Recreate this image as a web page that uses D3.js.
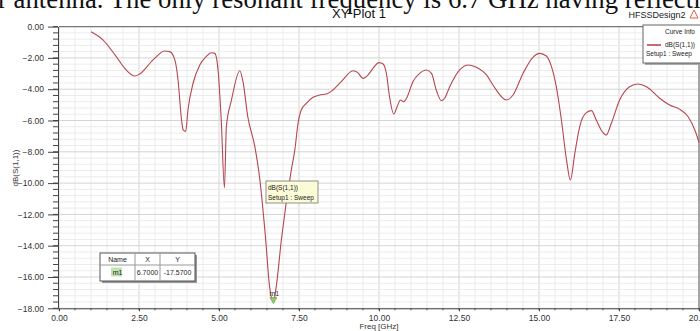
<!DOCTYPE html>
<html>
<head>
<meta charset="utf-8">
<script src="https://cdn.jsdelivr.net/npm/d3@7"></script>
<style>
  body { margin: 0; background: #fff; overflow: hidden; }
  svg { display: block; font-family: "Liberation Sans", Arial, sans-serif; }
</style>
</head>
<body>
<svg id="chart" width="700" height="331"></svg>
<script>
// curve samples: frequency (GHz) and dB(S(1,1))
let freq = [1.0, 1.38, 1.79, 2.1, 2.37, 2.52, 2.94, 3.3, 3.46, 3.62, 3.72, 3.83, 3.88, 3.96, 4.03, 4.19, 4.4, 4.6, 4.76, 4.87, 4.97, 5.07, 5.17, 5.23, 5.39, 5.65, 5.75, 5.9, 6.12, 6.27, 6.45, 6.58, 6.7, 6.79, 6.95, 7.26, 7.37, 7.47, 7.57, 7.73, 7.94, 8.15, 8.36, 8.56, 8.82, 9.19, 9.34, 9.5, 9.66, 9.81, 10.0, 10.13, 10.23, 10.33, 10.46, 10.56, 10.67, 10.77, 10.86, 11.06, 11.27, 11.48, 11.64, 11.79, 11.95, 12.05, 12.21, 12.52, 12.78, 13.04, 13.36, 13.56, 13.98, 14.19, 14.5, 14.81, 15.02, 15.23, 15.39, 15.54, 15.7, 15.86, 15.98, 16.12, 16.27, 16.48, 16.64, 16.79, 16.98, 17.1, 17.26, 17.52, 17.83, 18.09, 18.36, 18.77, 19.08, 19.4, 19.66, 19.87, 20.0];
let s11 = [-0.33, -0.86, -1.92, -2.77, -3.16, -3.03, -2.13, -1.56, -1.6, -2.13, -3.41, -5.97, -6.6, -6.7, -5.33, -3.62, -2.45, -1.92, -1.67, -1.71, -2.77, -5.97, -10.3, -6.4, -4.69, -2.82, -3.52, -5.76, -7.67, -9.67, -13.4, -16.6, -17.57, -16.6, -13.6, -9.16, -7.88, -6.18, -5.33, -4.9, -4.52, -4.37, -4.31, -4.05, -3.52, -2.82, -2.94, -3.31, -3.09, -2.67, -2.3, -2.39, -2.99, -4.48, -5.59, -5.16, -4.69, -4.8, -4.58, -3.52, -2.99, -2.77, -2.99, -4.05, -4.73, -4.58, -3.84, -2.77, -2.45, -2.6, -3.09, -3.73, -4.69, -4.37, -2.99, -1.96, -1.71, -1.88, -2.56, -3.84, -5.97, -8.52, -9.8, -8.1, -6.4, -5.5, -5.37, -5.97, -6.72, -6.93, -6.18, -4.69, -3.84, -3.67, -3.84, -4.58, -5.01, -5.29, -5.76, -6.61, -7.4];

let xTicks = [0, 2.5, 5, 7.5, 10, 12.5, 15, 17.5, 20];
let yTicks = [0, -2, -4, -6, -8, -10, -12, -14, -16, -18];

let marker = {name: "m1", x: 6.7, y: -17.57};

let pageText = "r antenna. The only resonant frequency is 6.7 GHz having reflection";

let data = freq.map(function(f, i) { return {f: f, db: s11[i]}; });

let svg = d3.select("#chart");

// plot frame in pixels
let pLeft = 59, pRight = 699, pTop = 26.6, pBottom = 308.3;

let xScale = d3.scaleLinear().domain([0, 20]).range([pLeft, pRight]);
let yScale = d3.scaleLinear().domain([-18, 0]).range([pBottom, pTop]);

// cut-off text from the page above the figure, sized so "reflecti" reaches the right edge
let pt = svg.append("text")
   .attr("x", -2).attr("y", 8)
   .style("font-family", "'Liberation Serif', 'Times New Roman', serif")
   .style("font-size", "22px")
   .attr("fill", "#111")
   .text(pageText);
let cut = pageText.indexOf("reflecti") + 8;
let w = pt.node().getSubStringLength(0, cut);
pt.style("font-size", (22 * 703 / w).toFixed(2) + "px");

// grid
let minorX = d3.range(0, 20.01, 0.5), minorY = d3.range(-18, 0.01, 0.4);
let isMajorY = d => Math.abs(d / 2 - Math.round(d / 2)) < 0.01;
let grid = svg.append("g");
grid.selectAll(".vx").data(minorX).join("line")
    .attr("x1", d => xScale(d)).attr("x2", d => xScale(d))
    .attr("y1", pTop).attr("y2", pBottom)
    .attr("stroke", d => xTicks.includes(d) ? "#d4d4d4" : "#ececec")
    .attr("stroke-width", 1);
grid.selectAll(".hy").data(minorY).join("line")
    .attr("x1", pLeft).attr("x2", pRight)
    .attr("y1", d => yScale(d)).attr("y2", d => yScale(d))
    .attr("stroke", d => isMajorY(d) ? "#d4d4d4" : "#ececec")
    .attr("stroke-width", 1);

// frame lines
svg.append("line").attr("x1", pLeft).attr("x2", pRight).attr("y1", pTop).attr("y2", pTop)
   .attr("stroke", "#777").attr("stroke-width", 1.2);
svg.append("line").attr("x1", pRight).attr("x2", pRight).attr("y1", pTop).attr("y2", pBottom)
   .attr("stroke", "#777").attr("stroke-width", 1.2);

// y axis
let yAxis = d3.axisLeft(yScale).tickValues(yTicks).tickSize(10).tickSizeOuter(0)
              .tickPadding(4).tickFormat(d3.format(".2f"));
let yAxisEl = svg.append("g").attr("transform", "translate(" + (pLeft - 1) + ",0)").call(yAxis);
yAxisEl.append("g").selectAll("line").data(minorY).join("line")
       .attr("x1", -5).attr("x2", 0).attr("y1", d => yScale(d)).attr("y2", d => yScale(d))
       .attr("stroke", "#444");
yAxisEl.select(".domain").attr("stroke", "#444");
yAxisEl.selectAll(".tick line").attr("stroke", "#444");
yAxisEl.selectAll("text").style("font-size", "8.5px").attr("fill", "#333");

// x axis
let xAxis = d3.axisBottom(xScale).tickValues(xTicks).tickSize(3).tickSizeOuter(0)
              .tickPadding(4).tickFormat(d3.format(".2f"));
let xAxisEl = svg.append("g").attr("transform", "translate(0," + pBottom + ")").call(xAxis);
xAxisEl.append("g").selectAll("line").data(minorX).join("line")
       .attr("x1", d => xScale(d)).attr("x2", d => xScale(d)).attr("y1", 0).attr("y2", 2)
       .attr("stroke", "#444");
xAxisEl.select(".domain").attr("stroke", "#444");
xAxisEl.selectAll(".tick line").attr("stroke", "#444");
xAxisEl.selectAll("text").style("font-size", "8.5px").attr("fill", "#333");

// axis titles
svg.append("text").attr("x", 379).attr("y", 329).attr("text-anchor", "middle")
   .style("font-size", "8px").attr("fill", "#333").text("Freq [GHz]");
svg.append("text").attr("transform", "translate(18,168) rotate(-90)")
   .attr("text-anchor", "middle").style("font-size", "8px").attr("fill", "#333")
   .text("dB(S(1,1))");

// title and design name
svg.append("text").attr("x", 359).attr("y", 18).attr("text-anchor", "middle")
   .style("font-size", "13px").attr("fill", "#111").text("XY Plot 1");
svg.append("text").attr("x", 657).attr("y", 18).attr("text-anchor", "middle")
   .style("font-size", "9px").attr("fill", "#222").text("HFSSDesign2");
svg.append("path").attr("d", "M690,18 L694,10 L698,18 Z")
   .attr("fill", "none").attr("stroke", "#d8604a").attr("stroke-width", 1);

// curve
let line = d3.line().x(d => xScale(d.f)).y(d => yScale(d.db)).curve(d3.curveMonotoneX);
svg.append("path").datum(data).attr("d", line)
   .attr("fill", "none").attr("stroke", "#b5474e").attr("stroke-width", 1.1);

// marker m1
let mx = xScale(marker.x), my = yScale(marker.y);
svg.append("path").attr("d", "M" + (mx - 3.5) + "," + (my - 4) + " L" + (mx + 3.5) + "," + (my - 4) + " L" + mx + "," + (my + 2) + " Z")
   .attr("fill", "#8fce6a").attr("stroke", "#5a9a3a").attr("stroke-width", 0.6);
svg.append("text").attr("x", mx + 1).attr("y", my - 6).attr("text-anchor", "middle")
   .style("font-size", "7px").attr("fill", "#333").text(marker.name);

// marker tooltip box
let tip = svg.append("g").attr("transform", "translate(266,181)");
tip.append("rect").attr("width", 52).attr("height", 22)
   .attr("fill", "#fbfbd8").attr("stroke", "#777").attr("stroke-width", 0.8);
tip.append("text").attr("x", 2).attr("y", 9).style("font-size", "6.5px").attr("fill", "#222").text("dB(S(1,1))");
tip.append("text").attr("x", 2).attr("y", 18.5).style("font-size", "6.5px").attr("fill", "#222").text("Setup1 : Sweep");

// marker table
let tbl = svg.append("g").attr("transform", "translate(100,253)");
tbl.append("rect").attr("x", 2).attr("y", 2).attr("width", 95).attr("height", 28).attr("fill", "#999");
tbl.append("rect").attr("width", 95).attr("height", 28).attr("fill", "#fff").attr("stroke", "#444").attr("stroke-width", 0.9);
tbl.append("line").attr("x1", 0).attr("x2", 95).attr("y1", 12).attr("y2", 12).attr("stroke", "#999");
[35, 60].forEach(function(cx) {
  tbl.append("line").attr("x1", cx).attr("x2", cx).attr("y1", 0).attr("y2", 28).attr("stroke", "#999");
});
tbl.append("rect").attr("x", 11).attr("y", 14.5).attr("width", 11).attr("height", 9).attr("fill", "#bfe6b0");
let cols = [17.5, 47.5, 77.5];
["Name", "X", "Y"].forEach(function(t, i) {
  tbl.append("text").attr("x", cols[i]).attr("y", 9).attr("text-anchor", "middle")
     .style("font-size", "7px").attr("fill", "#222").text(t);
});
[marker.name, marker.x.toFixed(4), marker.y.toFixed(4)].forEach(function(t, i) {
  tbl.append("text").attr("x", cols[i]).attr("y", 22).attr("text-anchor", "middle")
     .style("font-size", "7px").attr("fill", "#222").text(t);
});

// curve info legend
let leg = svg.append("g").attr("transform", "translate(643,25)");
leg.append("rect").attr("x", 2).attr("y", 2).attr("width", 70).attr("height", 38).attr("fill", "#aaa");
leg.append("rect").attr("width", 70).attr("height", 38).attr("fill", "#fff").attr("stroke", "#555").attr("stroke-width", 0.9);
leg.append("text").attr("x", 37).attr("y", 9).attr("text-anchor", "middle")
   .style("font-size", "6.5px").attr("fill", "#222").text("Curve Info");
leg.append("line").attr("x1", 4).attr("x2", 18).attr("y1", 20).attr("y2", 20)
   .attr("stroke", "#b5474e").attr("stroke-width", 1.6);
leg.append("text").attr("x", 22).attr("y", 22).style("font-size", "6.5px").attr("fill", "#222").text("dB(S(1,1))");
leg.append("text").attr("x", 3).attr("y", 31).style("font-size", "6.5px").attr("fill", "#222").text("Setup1 : Sweep");
</script>
</body>
</html>
